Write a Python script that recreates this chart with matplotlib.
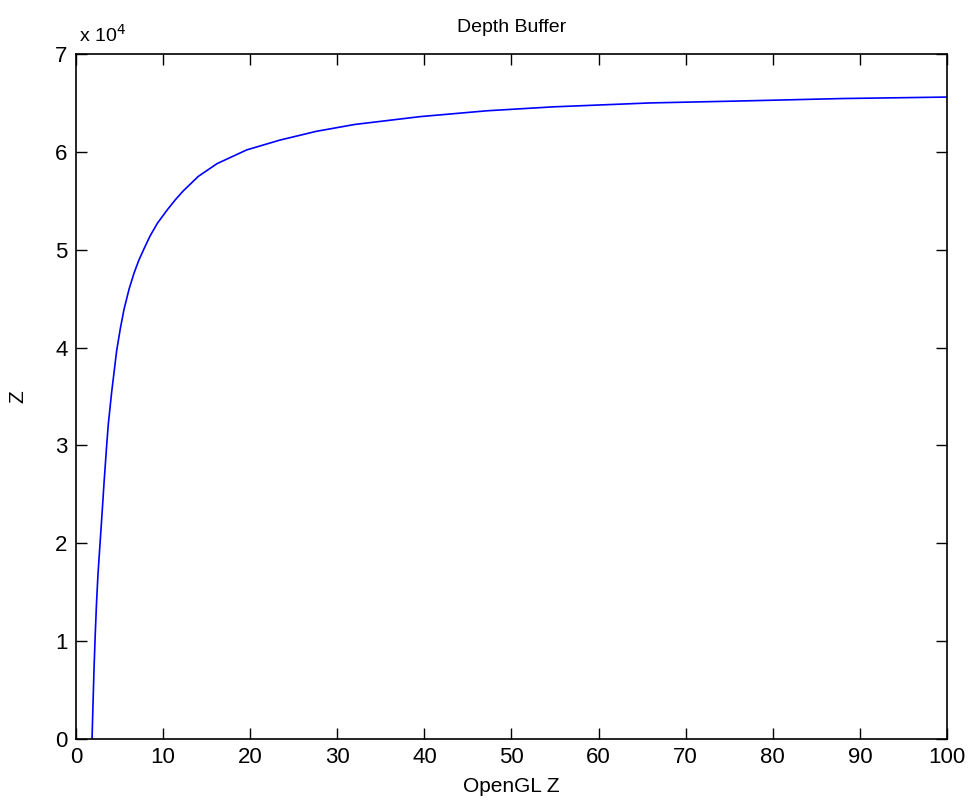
import matplotlib.pyplot as plt
from matplotlib.ticker import FuncFormatter

# values (OpenGL Z vs depth buffer value)
opengl_z = [1.84, 1.95, 2.07, 2.20, 2.35, 2.52, 2.70, 2.95, 3.22, 3.52, 3.71,
            4.10, 4.67, 5.10, 5.51, 6.10, 6.66, 7.20, 7.81, 8.50, 9.34, 10.5,
            11.4, 12.3, 14.05, 16.2, 19.6, 23.4, 27.6, 32.0, 39.5, 47.2, 54.8,
            65.9, 76.3, 88.0, 100.0]
depth = [0, 3500, 7200, 10500, 13800, 16800, 19200, 22500, 26200, 30000, 32200,
         35500, 39700, 42000, 43900, 46000, 47600, 48900, 50100, 51400, 52700, 54100,
         55100, 56000, 57500, 58800, 60200, 61200, 62100, 62800, 63600, 64200, 64600,
         65000, 65200, 65450, 65600]

x_ticks = [0, 10, 20, 30, 40, 50, 60, 70, 80, 90, 100]
y_ticks = [0, 10000, 20000, 30000, 40000, 50000, 60000, 70000]

plt.rcParams['font.family'] = ['Liberation Sans', 'DejaVu Sans']

fig = plt.figure(figsize=(9.72, 8.11), dpi=100)
ax = fig.add_axes([0.0782, 0.0888, 0.896, 0.8446])

ax.plot(opengl_z, depth, color=(0, 0, 1), lw=1.2)

ax.set_xlim(0, 100)
ax.set_ylim(0, 70000)
ax.set_xticks(x_ticks)
ax.set_yticks(y_ticks)
ax.yaxis.set_major_formatter(FuncFormatter(lambda v, p: f"{v / 1e4:g}"))
ax.tick_params(direction='in', length=8, width=1, top=True, right=True,
               labelsize=16, pad=6)
for s in ax.spines.values():
    s.set_linewidth(1.2)

ax.set_title("Depth Buffer", fontsize=14, pad=16)
ax.set_xlabel("OpenGL Z", fontsize=15, labelpad=6)
ax.set_ylabel("Z", fontsize=15, labelpad=20)
ax.text(0.003, 1.012, r"x 10$^4$", transform=ax.transAxes, fontsize=14,
        ha='left', va='bottom')

fig.savefig("out.png", dpi=100, facecolor='white')
